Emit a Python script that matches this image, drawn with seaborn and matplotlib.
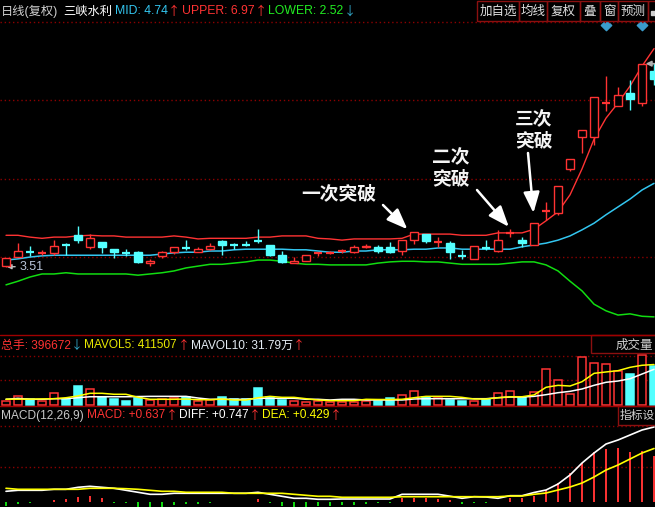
import matplotlib
matplotlib.use('Agg')
import matplotlib.pyplot as plt
from matplotlib.patches import Rectangle
import numpy as np
import seaborn as sns

# daily candles (price)
opens = [3.37, 3.52, 3.61, 3.59, 3.59, 3.72, 3.89, 3.69, 3.77, 3.65,
         3.59, 3.60, 3.42, 3.54, 3.61, 3.68, 3.60, 3.66, 3.78, 3.72,
         3.72, 3.79, 3.72, 3.55, 3.42, 3.46, 3.58, 3.59, 3.62, 3.61,
         3.68, 3.69, 3.69, 3.62, 3.80, 3.90, 3.76, 3.75, 3.54, 3.48,
         3.67, 3.62, 3.91, 3.80, 3.72, 4.27, 4.25, 4.98, 5.51, 5.51,
         6.06, 6.02, 6.24, 6.07, 6.60]
highs = [3.50, 3.75, 3.70, 3.64, 3.80, 3.75, 4.03, 3.90, 3.77, 3.65,
         3.65, 3.62, 3.48, 3.62, 3.69, 3.80, 3.68, 3.75, 3.80, 3.76,
         3.78, 3.98, 3.72, 3.62, 3.52, 3.55, 3.61, 3.62, 3.66, 3.72,
         3.73, 3.72, 3.77, 3.80, 3.93, 3.90, 3.85, 3.79, 3.64, 3.71,
         3.80, 3.97, 3.99, 3.85, 4.09, 4.43, 4.70, 5.14, 5.62, 6.17,
         6.52, 6.34, 6.45, 6.72, 6.73]
lows = [3.36, 3.52, 3.54, 3.56, 3.55, 3.55, 3.76, 3.65, 3.59, 3.51,
        3.54, 3.42, 3.38, 3.50, 3.57, 3.64, 3.60, 3.64, 3.55, 3.66,
        3.71, 3.75, 3.54, 3.42, 3.42, 3.46, 3.54, 3.57, 3.59, 3.58,
        3.67, 3.59, 3.58, 3.55, 3.73, 3.76, 3.69, 3.48, 3.49, 3.48,
        3.64, 3.61, 3.85, 3.69, 3.72, 4.13, 4.22, 4.94, 5.24, 5.37,
        5.94, 6.02, 5.95, 6.02, 6.37]
closes = [3.50, 3.62, 3.60, 3.60, 3.70, 3.71, 3.80, 3.83, 3.69, 3.61,
          3.58, 3.43, 3.45, 3.60, 3.69, 3.67, 3.65, 3.70, 3.72, 3.71,
          3.71, 3.78, 3.55, 3.43, 3.45, 3.55, 3.59, 3.60, 3.63, 3.68,
          3.70, 3.62, 3.60, 3.80, 3.93, 3.79, 3.77, 3.60, 3.53, 3.71,
          3.66, 3.81, 3.92, 3.76, 4.09, 4.28, 4.70, 5.14, 5.62, 6.17,
          6.07, 6.20, 6.14, 6.72, 6.47]

# bollinger bands
boll_upper = [3.88, 3.88, 3.85, 3.83, 3.85, 3.85, 3.87, 3.88, 3.87, 3.87,
              3.85, 3.85, 3.85, 3.85, 3.87, 3.85, 3.82, 3.83, 3.83, 3.83,
              3.83, 3.85, 3.85, 3.87, 3.87, 3.87, 3.83, 3.82, 3.80, 3.82,
              3.82, 3.82, 3.82, 3.83, 3.90, 3.90, 3.90, 3.90, 3.88, 3.88,
              3.88, 3.92, 3.92, 3.92, 3.98, 4.12, 4.27, 4.55, 4.98, 5.47,
              5.82, 6.07, 6.35, 6.68, 6.97]
boll_mid = [3.47, 3.49, 3.52, 3.54, 3.55, 3.55, 3.55, 3.55, 3.55, 3.55,
            3.55, 3.55, 3.55, 3.57, 3.59, 3.60, 3.60, 3.62, 3.62, 3.64,
            3.65, 3.65, 3.65, 3.65, 3.64, 3.64, 3.62, 3.60, 3.60, 3.62,
            3.62, 3.64, 3.64, 3.64, 3.65, 3.65, 3.67, 3.67, 3.65, 3.65,
            3.65, 3.65, 3.65, 3.69, 3.72, 3.75, 3.80, 3.87, 3.97, 4.08,
            4.22, 4.35, 4.48, 4.63, 4.74]
boll_lower = [3.06, 3.12, 3.19, 3.24, 3.24, 3.26, 3.24, 3.24, 3.24, 3.24,
              3.24, 3.22, 3.24, 3.26, 3.29, 3.34, 3.37, 3.40, 3.40, 3.42,
              3.44, 3.47, 3.47, 3.45, 3.42, 3.40, 3.40, 3.39, 3.39, 3.39,
              3.39, 3.42, 3.44, 3.45, 3.45, 3.44, 3.44, 3.42, 3.40, 3.40,
              3.40, 3.40, 3.42, 3.44, 3.44, 3.39, 3.29, 3.12, 2.96, 2.74,
              2.63, 2.56, 2.58, 2.54, 2.53]

# volume (shares) and its averages
volumes = [41000, 92000, 58000, 41000, 122000, 64000, 193000, 160000, 84000, 61000,
           41000, 71000, 51000, 58000, 68000, 84000, 41000, 51000, 78000, 58000,
           58000, 173000, 84000, 51000, 41000, 31000, 41000, 34000, 34000, 34000,
           44000, 44000, 68000, 99000, 139000, 78000, 68000, 51000, 41000, 44000,
           58000, 119000, 139000, 84000, 129000, 363000, 251000, 109000, 485000, 424000,
           414000, 349000, 315000, 505000, 396672]
mavol5 = [59000, 59000, 60000, 62000, 64000, 74000, 92000, 119000, 119000, 109000,
          109000, 78000, 58000, 58000, 58000, 61000, 54000, 54000, 61000, 51000,
          51000, 74000, 88000, 78000, 78000, 64000, 51000, 44000, 44000, 44000,
          58000, 56000, 56000, 58000, 74000, 88000, 88000, 88000, 78000, 61000,
          61000, 74000, 84000, 84000, 102000, 180000, 200000, 193000, 237000, 322000,
          336000, 349000, 383000, 404000, 411507]
mavol10 = [58000, 68000, 58000, 58000, 64000, 64000, 74000, 84000, 84000, 84000,
           84000, 86000, 88000, 88000, 88000, 88000, 71000, 58000, 58000, 58000,
           58000, 68000, 68000, 68000, 68000, 58000, 58000, 51000, 58000, 58000,
           51000, 51000, 51000, 51000, 61000, 64000, 64000, 64000, 64000, 64000,
           64000, 74000, 81000, 81000, 88000, 105000, 125000, 139000, 163000, 200000,
           231000, 244000, 267000, 315000, 363000]

# MACD(12,26,9)
diff = [0.104, 0.114, 0.114, 0.114, 0.124, 0.124, 0.144, 0.154, 0.144, 0.134,
        0.114, 0.094, 0.074, 0.074, 0.084, 0.084, 0.084, 0.084, 0.084, 0.084,
        0.084, 0.094, 0.074, 0.054, 0.034, 0.034, 0.024, 0.024, 0.027, 0.027,
        0.027, 0.027, 0.027, 0.074, 0.074, 0.074, 0.074, 0.055, 0.034, 0.050,
        0.047, 0.034, 0.060, 0.060, 0.092, 0.117, 0.177, 0.267, 0.387, 0.487,
        0.577, 0.617, 0.667, 0.717, 0.747]
dea = [0.134, 0.124, 0.124, 0.124, 0.124, 0.124, 0.124, 0.134, 0.134, 0.134,
       0.130, 0.124, 0.114, 0.104, 0.104, 0.094, 0.094, 0.094, 0.094, 0.084,
       0.084, 0.084, 0.084, 0.084, 0.074, 0.064, 0.054, 0.054, 0.044, 0.044,
       0.044, 0.044, 0.044, 0.050, 0.050, 0.050, 0.050, 0.050, 0.050, 0.050,
       0.050, 0.050, 0.057, 0.057, 0.074, 0.087, 0.117, 0.147, 0.187, 0.247,
       0.317, 0.367, 0.427, 0.487, 0.532]
macd_bar = [-0.043, -0.02, -0.01, -0.007, 0.017, 0.03, 0.05, 0.06, 0.04, -0.01,
            -0.013, -0.05, -0.05, -0.05, -0.03, -0.02, -0.02, -0.01, -0.007, -0.007,
            -0.007, 0.027, -0.01, -0.04, -0.05, -0.05, -0.043, -0.04, -0.03, -0.03,
            -0.02, -0.01, -0.01, 0.04, 0.04, 0.04, 0.03, 0.015, -0.02, -0.01,
            -0.01, -0.005, 0.04, 0.04, 0.057, 0.117, 0.19, 0.284, 0.384, 0.494,
            0.527, 0.537, 0.497, 0.507, 0.457]

marker_days = [50, 53]   # blue diamond flags on top
grid_price = [3.52, 4.82, 6.12]
grid_vol = [250000, 500000]
grid_macd = [0.344, 0.757]

RED = '#ff3333'
CYAN = '#54ffff'
GREEN = '#11dd11'
MIDC = '#33c6f0'
YEL = '#ffff00'
GRID = '#8b0000'
SEP = '#a00000'

sns.set_theme(style='dark', rc={'axes.facecolor': 'black', 'figure.facecolor': 'black'})
plt.rcParams['font.family'] = ['Noto Sans CJK SC', 'DejaVu Sans']
plt.rcParams['axes.unicode_minus'] = False
LABEL_FONT = ['Liberation Sans', 'Noto Sans CJK SC', 'DejaVu Sans']
ARROW_FONT = ['Noto Sans CJK SC', 'DejaVu Sans']

W, H = 655, 507
fig = plt.figure(figsize=(W / 100, H / 100), dpi=100)


def panel(top, bottom):
    ax = fig.add_axes([0, 1 - bottom / H, 1, (bottom - top) / H])
    ax.set_facecolor('black')
    return ax


ax_p = panel(22, 335)
ax_v = panel(335, 406)
ax_m = panel(406, 507)

idx = np.arange(len(opens))
o, h, l, c = map(np.array, (opens, highs, lows, closes))
up = c >= o
bw = 0.72

# ---- price panel
for g in grid_price:
    ax_p.axhline(g, color=GRID, lw=1, ls=(0, (1, 2)), zorder=0)
sns.lineplot(x=idx, y=boll_upper, ax=ax_p, color=RED, linewidth=1, legend=False)
sns.lineplot(x=idx, y=boll_mid, ax=ax_p, color=MIDC, linewidth=1.1, legend=False)
sns.lineplot(x=idx, y=boll_lower, ax=ax_p, color=GREEN, linewidth=1.1, legend=False)

for i in idx:
    col = RED if up[i] else CYAN
    top, bot = max(o[i], c[i]), min(o[i], c[i])
    if top - bot < 0.015:
        ax_p.vlines(i, l[i], h[i], color=col, lw=1, zorder=3)
        ax_p.hlines((o[i] + c[i]) / 2, i - bw / 2, i + bw / 2, color=col, lw=1.6, zorder=4)
    elif up[i]:
        if h[i] > top:
            ax_p.vlines(i, top, h[i], color=col, lw=1, zorder=3)
        if l[i] < bot:
            ax_p.vlines(i, l[i], bot, color=col, lw=1, zorder=3)
        ax_p.bar(i, top - bot, bottom=bot, width=bw, facecolor='black',
                 edgecolor=col, linewidth=1, zorder=4)
    else:
        ax_p.vlines(i, l[i], h[i], color=col, lw=1, zorder=3)
        ax_p.bar(i, top - bot, bottom=bot, width=bw, facecolor=col,
                 edgecolor=col, linewidth=1, zorder=4)

ax_p.scatter(marker_days, [7.36] * len(marker_days), marker='D', s=28,
             color='#3a9ccc', zorder=5)

ax_p.annotate('3.51', xy=(0.05, lows[0]), xytext=(1.15, lows[0]), color='#b8c4d8',
              fontsize=9, family=LABEL_FONT, ha='left', va='center',
              arrowprops=dict(arrowstyle='-|>', color='#c0c0c0', lw=1,
                              mutation_scale=7, shrinkA=1, shrinkB=0))
ax_p.annotate('', xy=(53.3, highs[53]), xytext=(54.4, highs[53]),
              arrowprops=dict(arrowstyle='-|>', color='#b0b0b0', lw=1.2,
                              mutation_scale=8, shrinkA=0, shrinkB=0))

arrow_kw = dict(arrowstyle='-|>,head_length=0.9,head_width=0.35', color='white',
                lw=1.8, mutation_scale=14, shrinkA=0, shrinkB=0)
ax_p.annotate('', xy=(34 - 0.55, highs[34] + 0.05), xytext=(383, H - 205),
              textcoords='figure pixels', arrowprops=arrow_kw)
ax_p.annotate('', xy=(42 - 0.1, highs[42] + 0.03), xytext=(477, H - 190),
              textcoords='figure pixels', arrowprops=arrow_kw)
ax_p.annotate('', xy=(44 - 0.05, highs[44] + 0.16), xytext=(528, H - 153),
              textcoords='figure pixels', arrowprops=arrow_kw)

ax_p.set_ylim(2.23, 7.41)

# ---- volume panel
for g in grid_vol:
    ax_v.axhline(g, color=GRID, lw=1, ls=(0, (1, 2)), zorder=0)
ax_v.bar(idx, volumes, width=bw,
         color=['black' if u else CYAN for u in up],
         edgecolor=[RED if u else CYAN for u in up], linewidth=1.1, zorder=2)
sns.lineplot(x=idx, y=mavol10, ax=ax_v, color='white', linewidth=1.1, legend=False, zorder=3)
sns.lineplot(x=idx, y=mavol5, ax=ax_v, color=YEL, linewidth=1.1, legend=False, zorder=3)
ax_v.set_ylim(-10170, 711900)

# ---- MACD panel
for g in grid_macd:
    ax_m.axhline(g, color=GRID, lw=1, ls=(0, (1, 2)), zorder=0)
ax_m.vlines(idx, 0, macd_bar, colors=[RED if m > 0 else GREEN for m in macd_bar],
            lw=1.4, zorder=2)
sns.lineplot(x=idx, y=diff, ax=ax_m, color='white', linewidth=1.2, legend=False, zorder=3)
sns.lineplot(x=idx, y=dea, ax=ax_m, color=YEL, linewidth=1.2, legend=False, zorder=3)
ax_m.set_ylim(-0.053, 0.957)

for ax in (ax_p, ax_v, ax_m):
    ax.set_xlim(-0.5, 54.08)
    ax.set_axis_off()

# ---- overlay for titles, buttons, separators
ov = fig.add_axes([0, 0, 1, 1], zorder=10)
ov.set_xlim(0, W)
ov.set_ylim(H, 0)
ov.set_axis_off()
renderer = fig.canvas.get_renderer()


def label_row(y, groups, size=8.6):
    # groups: (x, [(text, colour), ...]); a group never starts before the previous ends
    end = 0
    for x, parts in groups:
        x = max(x, end + 1)
        for txt, col in parts:
            fam = ARROW_FONT if txt in ('↑', '↓') else LABEL_FONT
            t = ov.text(x, y, txt, color=col, fontsize=size, family=fam,
                        ha='left', va='center')
            x = t.get_window_extent(renderer).x1 + 0.3
        end = x


ov.plot([0, W], [21.5, 21.5], color=GRID, lw=1, ls=(0, (1, 2)))
ov.plot([0, W], [334.5, 334.5], color=SEP, lw=1)
ov.plot([0, W], [405.5, 405.5], color=SEP, lw=1)

label_row(11.5, [(0, [('日线(复权)', '#d0d0d0')]),
                 (63, [('三峡水利', 'white')]),
                 (115, [('MID: 4.74', MIDC), ('↑', RED)]),
                 (178, [('UPPER: 6.97', RED), ('↑', RED)]),
                 (260, [('LOWER: 2.52', '#22ee22'), ('↓', '#33aacc')])], size=8.8)

edges = [477, 519, 547, 580, 600, 618, 648, 660]
buttons = ['加自选', '均线', '复权', '叠', '窗', '预测', '']
for (x0, x1), name in zip(zip(edges[:-1], edges[1:]), buttons):
    ov.add_patch(Rectangle((x0, 0.5), x1 - x0, 20.5, fill=False, edgecolor='#8b1010', lw=1))
    ov.text((x0 + x1) / 2, 11, name, color='#e0e0e0', fontsize=9, ha='center', va='center')
ov.add_patch(Rectangle((650.5, 10.5), 5, 4, color='#d0d0d0'))

label_row(345.5, [(0, [('总手: 396672', RED), ('↓', '#33aacc')]),
                  (83, [('MAVOL5: 411507', '#e8e800'), ('↑', RED)]),
                  (186, [('MAVOL10: 31.79万', '#e4ecf4'), ('↑', RED)])])
ov.add_patch(Rectangle((590.5, 335), 70, 18, fill=False, edgecolor='#8b1010', lw=1))
ov.text(653, 345, '成交量', color='#d0d0d0', fontsize=9, ha='right', va='center')

label_row(415.5, [(0, [('MACD(12,26,9)', '#c8c8c8')]),
                  (87, [('MACD: +0.637', RED), ('↑', RED)]),
                  (175, [('DIFF: +0.747', 'white'), ('↑', RED)]),
                  (255, [('DEA: +0.429', YEL), ('↑', RED)])])
ov.add_patch(Rectangle((617.5, 406), 50, 19, fill=False, edgecolor='#8b1010', lw=1))
ov.text(619.5, 416, '指标设', color='#d0d0d0', fontsize=8.5, ha='left', va='center')

note_kw = dict(color='#f4f4f4', fontsize=13.5, fontweight='bold', ha='center',
               va='center', linespacing=1.15)
ov.text(339, 194, '一次突破', **note_kw)
ov.text(451, 168, '二次\n突破', **note_kw)
ov.text(534, 130, '三次\n突破', **note_kw)

fig.savefig('out.png', dpi=100, facecolor='black')
